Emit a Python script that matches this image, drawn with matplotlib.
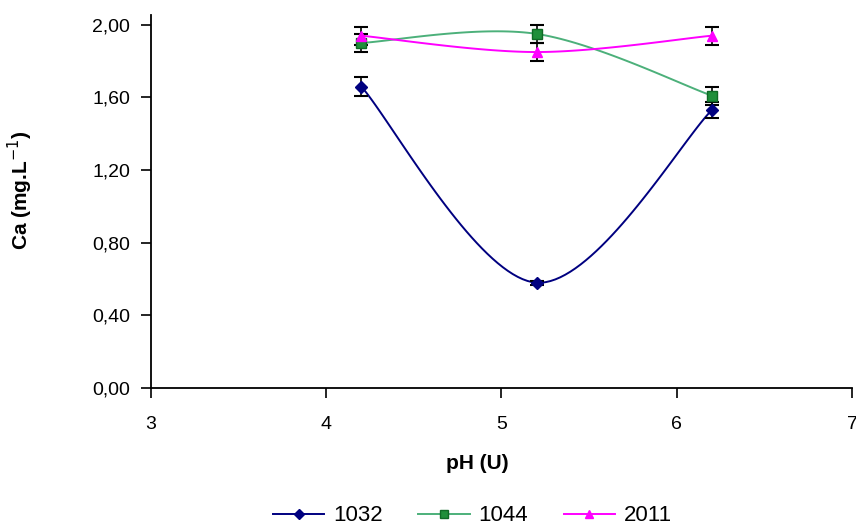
import numpy as np
import matplotlib.pyplot as plt

ph = [4.2, 5.2, 6.2]
ca_1032 = [1.66, 0.58, 1.53]
ca_1044 = [1.90, 1.95, 1.61]
ca_2011 = [1.94, 1.85, 1.94]
err_1032 = [0.05, 0.01, 0.045]
err_1044 = [0.05, 0.05, 0.05]
err_2011 = [0.05, 0.05, 0.05]
labels = ['1032', '1044', '2011']

xticks = [3, 4, 5, 6, 7]
yticks = [0.0, 0.4, 0.8, 1.2, 1.6, 2.0]
yticklabels = ['0,00', '0,40', '0,80', '1,20', '1,60', '2,00']


def smooth(x, y, n=40):
    # Excel-like smoothed line: cubic bezier with catmull-rom control points
    p = np.column_stack([x, y]).astype(float)
    ext = np.vstack([p[0], p, p[-1]])
    t = np.linspace(0, 1, n)[:, None]
    out = []
    for i in range(len(p) - 1):
        p0, p1 = ext[i + 1], ext[i + 2]
        c1 = p0 + (ext[i + 2] - ext[i]) / 6
        c2 = p1 - (ext[i + 3] - ext[i + 1]) / 6
        seg = ((1 - t) ** 3) * p0 + 3 * ((1 - t) ** 2) * t * c1 + 3 * (1 - t) * t ** 2 * c2 + t ** 3 * p1
        out.append(seg)
    out = np.vstack(out)
    return out[:, 0], out[:, 1]


plt.rcParams['font.family'] = ['Liberation Sans', 'DejaVu Sans']
fig = plt.figure(figsize=(8.56, 5.29), dpi=100)
ax = fig.add_axes([0.1764, 0.2665, 0.8189, 0.7055])

styles = [
    dict(color='#000080', marker='D', mfc='#000080', mec='#000080', ms=6),
    dict(color='#4cb07a', marker='s', mfc='#1f8f3a', mec='#0f6a25', ms=7),
    dict(color='#ff00ff', marker='^', mfc='#ff00ff', mec='#ff00ff', ms=7),
]
handles = []
for yv, ev, lab, st in zip([ca_1032, ca_1044, ca_2011], [err_1032, err_1044, err_2011], labels, styles):
    sx, sy = smooth(ph, yv)
    ax.plot(sx, sy, color=st['color'], lw=1.4, zorder=2)
    ax.errorbar(ph, yv, yerr=ev, fmt='none', ecolor='black', elinewidth=1.2, capsize=5, capthick=1.5, zorder=3)
    ax.plot(ph, yv, ls='none', marker=st['marker'], mfc=st['mfc'], mec=st['mec'], ms=st['ms'], zorder=4)
    h, = ax.plot([], [], color=st['color'], lw=1.4, marker=st['marker'], mfc=st['mfc'], mec=st['mec'], ms=st['ms'] - 1)
    handles.append(h)

ax.set_xlim(3, 7)
ax.set_ylim(0, 2.055)
ax.set_xticks(xticks)
ax.set_yticks(yticks)
ax.set_yticklabels(yticklabels)
ax.spines['top'].set_visible(False)
ax.spines['right'].set_visible(False)
ax.spines['left'].set_linewidth(1.3)
ax.spines['bottom'].set_linewidth(1.3)
ax.tick_params(axis='both', direction='out', length=7, width=1.2, labelsize=14, colors='black')
ax.tick_params(axis='x', pad=13)
ax.tick_params(axis='y', pad=8)

ax.set_xlabel('pH (U)', fontsize=15, fontweight='bold')
ax.set_ylabel('Ca (mg.L$^{-1}$)', fontsize=15, fontweight='bold')
ax.xaxis.set_label_coords(0.466, -0.177)
ax.yaxis.set_label_coords(-0.165, 0.531)

fig.legend(handles, labels, loc='lower center', bbox_to_anchor=(0.552, -0.033), ncol=3,
           frameon=False, fontsize=16, handlelength=2.3, columnspacing=1.6, handletextpad=0.4)

fig.savefig('out.png', dpi=100)
